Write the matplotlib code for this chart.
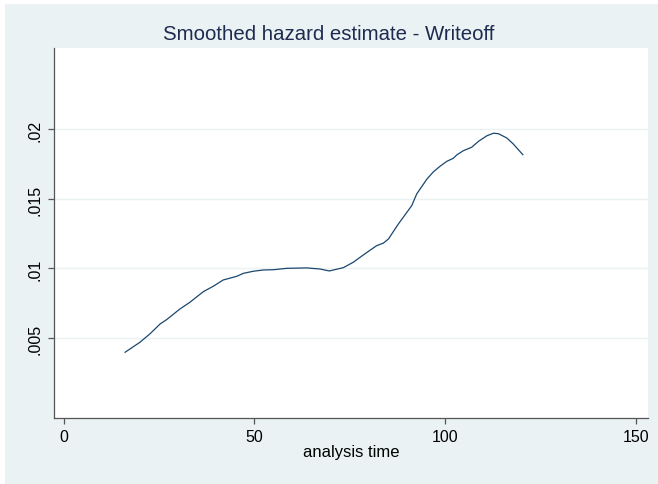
import matplotlib
matplotlib.use("Agg")
import matplotlib.pyplot as plt
from matplotlib.patches import Rectangle

# smoothed hazard
analysis_time = [16.1, 20.0, 22.6, 25.3, 27.0, 30.5, 33.1, 36.6, 39.2, 41.8,
                 45.4, 47.1, 49.7, 52.3, 55.0, 58.5, 63.7, 67.2, 69.6, 73.3,
                 75.9, 78.5, 82.0, 83.8, 85.1, 87.7, 91.2, 92.5, 95.2, 96.9,
                 98.6, 100.4, 102.1, 103.0, 104.7, 106.9, 108.7, 110.9, 112.6,
                 113.9, 116.1, 117.8, 120.3]
hazard = [0.00397, 0.00469, 0.00529, 0.00601, 0.00632, 0.00709, 0.00757,
          0.00833, 0.00872, 0.00917, 0.00944, 0.00965, 0.00980, 0.00989,
          0.00991, 0.01001, 0.01004, 0.00996, 0.00982, 0.01006, 0.01045,
          0.01097, 0.01164, 0.01183, 0.01212, 0.01320, 0.01452, 0.01536,
          0.01644, 0.01696, 0.01735, 0.01771, 0.01793, 0.01817, 0.01847,
          0.01872, 0.01915, 0.01955, 0.01973, 0.01970, 0.01939, 0.01896,
          0.01819]

x_ticks = [0, 50, 100, 150]
y_ticks = [0.005, 0.01, 0.015, 0.02]
y_tick_labels = [".005", ".01", ".015", ".02"]

plt.rcParams["font.family"] = ["Liberation Sans", "DejaVu Sans"]

bg = "#EAF2F3"
fig = plt.figure(figsize=(6.58, 4.85), dpi=100, facecolor="white")
# graph region: thin white strip only on the top and left edges
fig.patches.append(Rectangle((5 / 658, 0), 653 / 658, 480 / 485,
                             transform=fig.transFigure, facecolor=bg,
                             edgecolor="none", zorder=-10))

ax = fig.add_axes([53.8 / 658, 66 / 485, (648 - 53.8) / 658, (419 - 48.5) / 485])
ax.set_facecolor("white")

ax.plot(analysis_time, hazard, color="#1a476f", linewidth=0.9)

ax.set_xlim(-2.57, 153.1)
ax.set_ylim(-0.00076, 0.0259)
ax.set_xticks(x_ticks)
ax.set_xticklabels([str(t) for t in x_ticks])
ax.set_yticks(y_ticks)
ax.set_yticklabels(y_tick_labels, rotation=90, va="center")

ax.grid(axis="y", color=bg, linewidth=1.0)
ax.set_axisbelow(True)

for side in ["top", "right"]:
    ax.spines[side].set_visible(False)
for side in ["left", "bottom"]:
    ax.spines[side].set_color("#555555")
    ax.spines[side].set_linewidth(0.9)

ax.tick_params(axis="both", direction="out", length=4.5, width=0.9,
               color="#555555", labelsize=11.5, labelcolor="black", pad=3.5)

ax.set_xlabel("analysis time", fontsize=12, labelpad=0)
# title is centred on the whole figure, not on the axes
fig.text(0.5, 1 - 35 / 485, "Smoothed hazard estimate - Writeoff",
         fontsize=14.7, color="#1e2b50", ha="center", va="center")

fig.savefig("out.png", dpi=100, facecolor=fig.get_facecolor())
